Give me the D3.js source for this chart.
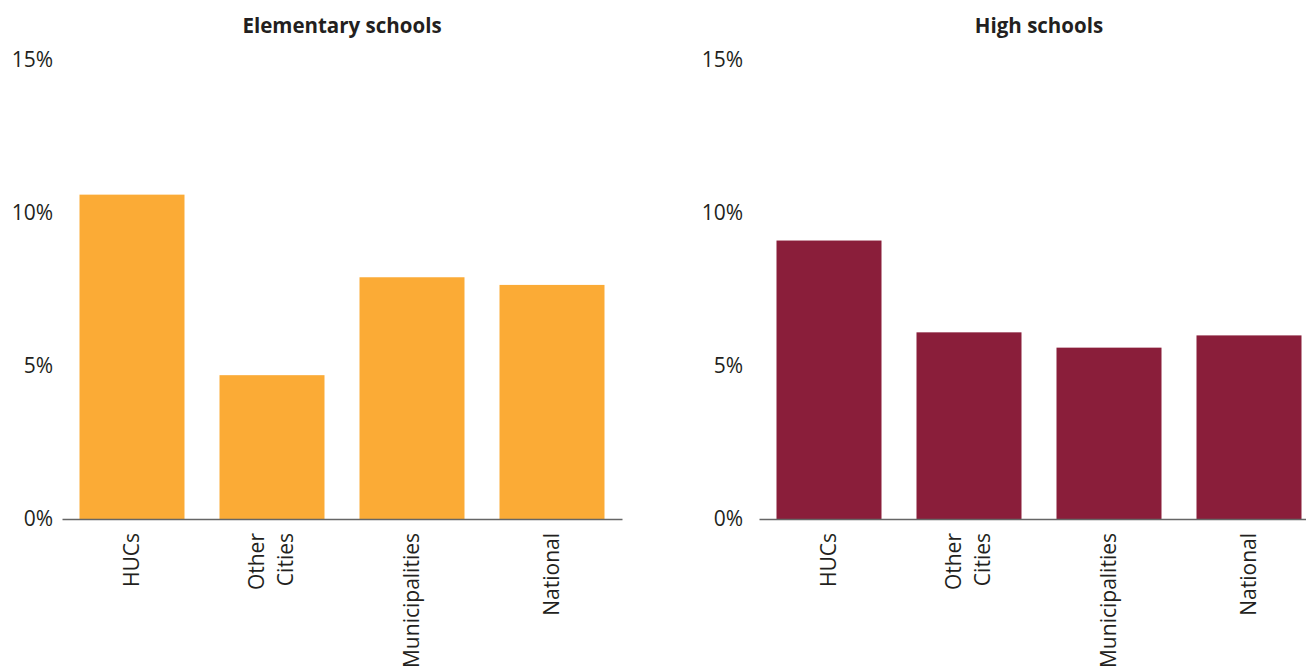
<!DOCTYPE html>
<html>
<head>
<meta charset="utf-8">
<script src="https://cdn.jsdelivr.net/npm/d3@7"></script>
<style>
  body { margin: 0; background: #fff; }
  text { font-family: "Open Sans", sans-serif; fill: #231f20; }
</style>
</head>
<body>
<svg id="svg"></svg>
<script>
var width = 1306, height = 669;

var categories = ["HUCs", "Other Cities", "Municipalities", "National"];
var elementary = [10.6, 4.7, 7.9, 7.65];
var highSchool = [9.1, 6.1, 5.6, 6.0];
var yTicks = [0, 5, 10, 15];
var titles = ["Elementary schools", "High schools"];

var svg = d3.select("#svg")
	.attr("width", width)
	.attr("height", height);

var y = d3.scaleLinear()
	.domain([0, 15])
	.range([519, 60]);

function panel(values, color, title, left, right, labelEnd)
{
	var x = d3.scaleBand()
		.domain(categories)
		.range([left, right])
		.paddingInner(0.25)
		.paddingOuter(0.125);

	var g = svg.append("g");

	g.append("text")
		.attr("x", (left + right) / 2)
		.attr("y", 33)
		.attr("text-anchor", "middle")
		.attr("font-size", "20.5px")
		.attr("font-weight", "bold")
		.text(title);

	g.selectAll(".tick-label")
		.data(yTicks)
		.enter().append("text")
		.attr("class", "tick-label")
		.attr("x", labelEnd)
		.attr("y", function(d) { return y(d); })
		.attr("dy", "0.35em")
		.attr("text-anchor", "end")
		.attr("font-size", "21px")
		.text(function(d) { return d + "%"; });

	g.selectAll(".bar")
		.data(values)
		.enter().append("rect")
		.attr("class", "bar")
		.attr("x", function(d, i) { return x(categories[i]); })
		.attr("width", x.bandwidth())
		.attr("y", function(d) { return y(d); })
		.attr("height", function(d) { return y(0) - y(d); })
		.attr("fill", color);

	var axis = g.append("g")
		.attr("transform", "translate(0," + y(0) + ")")
		.call(d3.axisBottom(x).tickSize(0).tickFormat(""));
	axis.select(".domain").attr("stroke", "#666").attr("stroke-width", 1.5);

	var lab = g.selectAll(".cat")
		.data(categories)
		.enter().append("text")
		.attr("class", "cat")
		.attr("font-size", "21px")
		.attr("text-anchor", "end")
		.attr("transform", function(d) { return "translate(" + (x(d) + x.bandwidth() / 2) + ",533) rotate(-90)"; });

	lab.each(function(d) {
		var words = d.split(" ");
		var t = d3.select(this);
		words.forEach(function(w, i) {
			t.append("tspan")
				.attr("x", 0)
				.attr("dy", words.length > 1 ? (i == 0 ? "-0.4em" : "1.4em") : "0.35em")
				.text(w);
		});
	});
}

panel(elementary, "#fbab36", titles[0], 62, 622, 53);
panel(highSchool, "#8a1e3a", titles[1], 759, 1319, 743);
</script>
</body>
</html>
